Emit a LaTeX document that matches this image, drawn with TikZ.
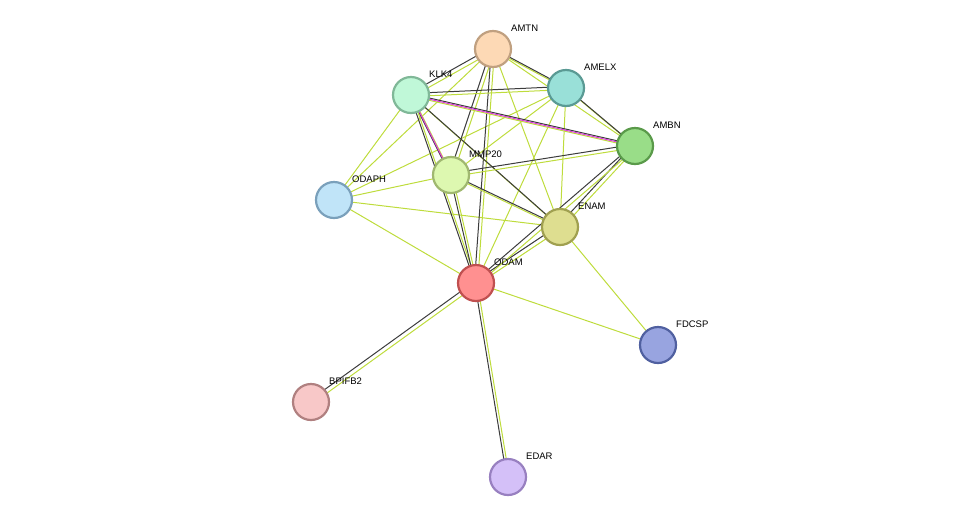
\documentclass[tikz,border=0pt]{standalone}
\usepackage{fontspec}
\setmainfont{Liberation Sans}
\begin{document}
\begin{tikzpicture}[x=1pt,y=-1pt,
 prot/.style={circle,minimum size=36pt,inner sep=0pt,line width=2.2pt},
 lab/.style={anchor=west,font=\fontsize{9.5}{11}\selectfont,inner sep=0pt},
 tm/.style={draw={rgb,255:red,190;green,220;blue,60},line width=1pt},
 ce/.style={draw={rgb,255:red,60;green,60;blue,60},line width=1pt},
 mg/.style={draw={rgb,255:red,220;green,60;blue,220},line width=1pt}]
\useasboundingbox (0,0) rectangle (976,523);
\coordinate (AMTN) at (493,49);
\coordinate (AMELX) at (566,88);
\coordinate (KLK4) at (411,95);
\coordinate (AMBN) at (635,146);
\coordinate (MMP20) at (451,175);
\coordinate (ODAPH) at (334,200);
\coordinate (ENAM) at (560,227);
\coordinate (ODAM) at (476,283);
\coordinate (FDCSP) at (658,345);
\coordinate (BPIFB2) at (311,402);
\coordinate (EDAR) at (508,477);
\foreach \a/\b in {KLK4/ODAPH,MMP20/ODAPH,AMELX/ODAPH,ODAPH/ENAM,ODAPH/ODAM,ODAM/FDCSP,ENAM/FDCSP,AMTN/ENAM,AMTN/AMBN,MMP20/AMELX,ENAM/AMELX,ODAM/AMELX,AMTN/ODAPH}
  \draw[tm] (\a) -- (\b);
\foreach \a/\b in {AMTN/KLK4,AMTN/AMELX,AMTN/MMP20,AMTN/ODAM,KLK4/AMELX,KLK4/MMP20,KLK4/ODAM,KLK4/ENAM,KLK4/AMBN,MMP20/AMBN,MMP20/ENAM,MMP20/ODAM,ENAM/AMBN,ENAM/ODAM,ODAM/AMBN,ODAM/BPIFB2,ODAM/EDAR,AMELX/AMBN}{
  \draw[tm] ([shift={(1.5,1.5)}]\a) -- ([shift={(1.5,1.5)}]\b);
  \draw[ce] ([shift={(-1.5,-1.5)}]\a) -- ([shift={(-1.5,-1.5)}]\b);}
\draw[mg] (KLK4) -- (MMP20);
\draw[mg] (KLK4) -- (AMBN);
\foreach \n/\f/\d in {AMTN/fdd9b5/c0a080,AMELX/99e0d8/5a9a94,KLK4/c0f8d8/80b898,AMBN/99dd88/5a9a4a,MMP20/ddf8b0/a0b870,ODAPH/c0e4f8/7aa0bb,ENAM/dede90/a0a050,ODAM/ff9090/c05050,FDCSP/98a4e0/5060a0,BPIFB2/f8c8c8/b08080,EDAR/d4c0f8/9880c0}{
  \definecolor{f\n}{HTML}{\f}\definecolor{d\n}{HTML}{\d}
  \node[prot,fill=f\n,draw=d\n] (n\n) at (\n) {};
  \node[lab] (l\n) at ([shift={(18,-21)}]\n) {\n};}
\end{tikzpicture}
\end{document}
